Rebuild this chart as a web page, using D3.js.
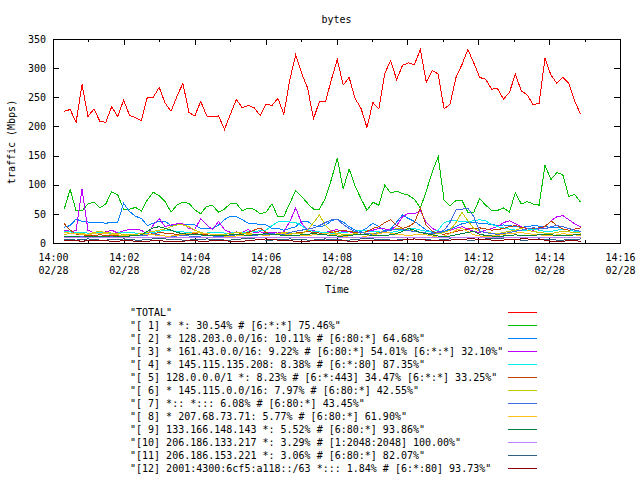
<!DOCTYPE html>
<html lang="en">
<head>
<meta charset="UTF-8">
<title>bytes</title>
<script src="https://d3js.org/d3.v7.min.js"></script>
<style>
  body { margin: 0; background: #fff; }
  text { font-family: "DejaVu Sans Mono", monospace; font-size: 10px; fill: #000; }
</style>
</head>
<body>
<script>
// sample times: 88 samples, roughly every 10 s starting just after 14:00
var tStart = new Date(2013, 1, 28, 14, 0, 19);
var tStepMs = 10050;
var xTickStart = new Date(2013, 1, 28, 14, 0, 0);
var xTickEnd = new Date(2013, 1, 28, 14, 16, 0);
var yTicks = [0, 50, 100, 150, 200, 250, 300, 350];

var total = [226,229,207,272,217,230,209,207,234,217,245,219,215,210,250,250,267,240,226,252,274,224,218,243,218,217,218,195,221,246,232,236,232,219,238,236,248,221,280,323,291,266,213,243,
             242,280,315,271,284,248,231,198,241,230,291,313,280,305,309,306,332,276,296,290,230,238,284,306,332,309,284,281,264,265,247,258,290,261,254,237,240,317,288,274,284,274,243,221];
var s1 = [58,92,55,55,67,70,60,67,88,83,58,58,61,55,74,87,81,71,53,65,70,68,57,50,63,64,53,58,68,68,55,60,58,50,53,67,45,46,68,90,80,68,58,58,
          77,109,145,93,127,98,76,56,70,65,99,86,89,85,82,75,60,89,122,148,73,64,73,73,53,53,76,65,56,56,60,53,86,67,71,67,65,133,109,121,117,80,83,70];
var s2 = [27,30,41,37,36,35,35,34,35,35,68,54,46,42,30,34,37,37,30,31,31,31,31,25,25,25,31,40,46,45,40,34,34,31,31,25,25,22,25,28,37,37,30,28,
          30,38,41,36,28,22,20,26,34,28,20,24,36,48,42,37,30,22,18,17,20,24,28,33,35,35,34,33,32,30,31,30,28,27,28,30,29,28,27,26,28,25,22,20];
var s3 = [22,20,21,93,22,17,17,19,22,17,21,23,23,22,14,31,42,28,31,33,33,25,23,42,31,23,37,23,18,19,18,23,18,19,18,18,17,19,37,60,34,22,21,19,
          18,21,23,19,19,18,17,20,22,25,24,22,30,45,51,50,55,35,25,20,18,22,25,28,24,20,18,22,25,28,35,38,33,28,25,22,24,28,38,45,47,40,33,28];
var s4 = [20,19,18,18,17,17,18,17,17,17,18,18,17,16,17,18,20,22,21,20,19,18,18,17,17,18,18,17,17,18,18,19,20,21,22,30,36,37,36,35,30,22,20,19,
          18,17,17,18,19,20,22,21,20,19,18,18,20,22,24,25,22,20,19,22,35,38,38,37,37,38,40,38,32,28,26,24,22,21,22,24,22,20,20,22,24,22,20,19];
var s5 = [33,22,15,14,13,13,14,13,12,13,14,15,14,13,14,16,18,17,16,15,14,15,16,15,14,13,14,15,16,15,16,18,22,26,18,15,14,15,16,17,18,20,18,17,
          16,18,20,22,20,18,17,20,25,28,35,40,30,25,28,35,60,30,20,16,15,17,20,22,24,25,26,24,22,23,25,28,30,27,25,24,26,28,38,30,24,22,24,26];
var s6 = [15,16,17,16,15,18,20,18,17,16,15,14,15,16,18,20,22,24,28,31,31,28,22,18,16,15,14,15,16,18,17,16,15,14,13,14,16,18,17,16,16,22,35,48,
          30,20,16,15,14,16,18,17,16,18,20,22,25,24,22,20,18,16,15,16,18,22,35,53,38,25,20,18,17,16,18,20,22,25,22,20,18,17,16,18,20,19,18,17];
var s7 = [10,10,11,12,11,10,11,12,11,10,11,12,13,12,14,16,14,12,11,12,13,12,11,12,13,12,11,12,13,14,13,12,13,14,15,16,15,14,18,20,22,24,26,30,
          35,40,41,32,25,20,18,16,15,17,20,22,24,23,21,20,18,17,16,18,22,35,57,58,60,45,20,18,16,15,16,18,20,22,24,26,25,24,28,30,28,25,22,20];
var s8 = [18,17,16,15,14,16,17,16,15,14,13,12,13,14,15,14,13,12,12,13,15,16,18,17,16,15,14,12,11,12,13,14,15,14,13,14,15,16,14,13,12,13,14,15,
          16,15,14,12,10,9,10,12,14,16,18,17,15,14,13,14,15,14,12,10,12,16,22,25,20,14,12,11,12,13,15,16,17,18,16,15,14,13,12,14,16,15,14,13];
var s9 = [12,11,11,10,11,12,12,11,10,11,12,12,13,14,20,26,28,25,22,18,16,15,14,14,13,13,12,13,14,15,14,13,14,15,16,15,14,13,12,13,14,15,16,15,
          14,13,12,12,13,14,15,14,13,12,13,14,16,20,25,22,18,16,14,12,11,12,14,16,18,20,15,13,12,11,12,13,14,13,12,13,14,15,14,13,12,13,14,15];
var s10 = [9,9,9,9,9,9,9,9,9,9,9,9,9,9,9,9,9,9,9,9,9,9,9,9,9,9,9,9,9,9,9,9,9,9,9,9,9,9,9,9,9,9,9,9,
           9,9,9,9,9,9,9,9,9,9,9,9,9,9,9,9,9,9,9,9,9,9,9,9,9,9,9,9,9,9,9,9,9,9,9,9,9,9,9,9,9,9,9,9];
var s11 = [6,6,5,6,7,6,5,5,6,6,7,6,5,5,6,7,8,7,6,6,5,5,6,6,7,6,6,5,5,6,7,8,7,6,5,5,6,6,7,6,6,5,5,6,
           7,6,6,5,5,6,7,8,7,6,6,5,5,6,6,7,6,6,5,5,6,7,6,6,5,5,6,7,8,8,7,6,6,5,5,6,7,6,6,5,5,6,6,7];
var s12 = [5,4,4,3,4,4,5,4,3,3,4,4,3,2,3,4,4,3,2,2,3,4,4,3,3,4,5,4,3,3,3,4,5,6,7,6,5,4,4,3,3,3,4,4,
           4,5,5,4,3,3,4,4,5,5,5,4,4,5,6,7,6,5,4,4,5,5,6,6,7,7,6,6,5,5,5,6,6,7,7,6,6,5,3,2,3,4,4,3];

var names = [
  '"TOTAL"',
  '"[ 1] * *: 30.54% # [6:*:*] 75.46%"',
  '"[ 2] * 128.203.0.0/16: 10.11% # [6:80:*] 64.68%"',
  '"[ 3] * 161.43.0.0/16: 9.22% # [6:80:*] 54.01% [6:*:*] 32.10%"',
  '"[ 4] * 145.115.135.208: 8.38% # [6:*:80] 87.35%"',
  '"[ 5] 128.0.0.0/1 *: 8.23% # [6:*:443] 34.47% [6:*:*] 33.25%"',
  '"[ 6] * 145.115.0.0/16: 7.97% # [6:80:*] 42.55%"',
  '"[ 7] *:: *::: 6.08% # [6:80:*] 43.45%"',
  '"[ 8] * 207.68.73.71: 5.77% # [6:80:*] 61.90%"',
  '"[ 9] 133.166.148.143 *: 5.52% # [6:80:*] 93.86%"',
  '"[10] 206.186.133.217 *: 3.29% # [1:2048:2048] 100.00%"',
  '"[11] 206.186.153.221 *: 3.06% # [6:80:*] 82.07%"',
  '"[12] 2001:4300:6cf5:a118::/63 *::: 1.84% # [6:*:80] 93.73%"'
];
var colors = ["#ff0000", "#00c000", "#0080ff", "#c000ff", "#00eeee", "#c04000", "#c8c800",
              "#4169e1", "#ffc020", "#008040", "#c080ff", "#306080", "#8b0000"];
var values = [total, s1, s2, s3, s4, s5, s6, s7, s8, s9, s10, s11, s12];

var width = 640, height = 480;
var plotLeft = 53, plotRight = 620, plotTop = 39, plotBottom = 243;

var times = values[0].map(function(d, i) { return new Date(tStart.getTime() + i * tStepMs); });

var svg = d3.select("body").append("svg")
    .attr("width", width)
    .attr("height", height);

var x = d3.scaleTime().domain([xTickStart, xTickEnd]).range([plotLeft, plotRight]);
var y = d3.scaleLinear().domain([0, 350]).range([plotBottom, plotTop]);

// minor ticks every minute (bottom + top)
svg.append("g").attr("transform", "translate(0," + plotBottom + ")")
    .call(d3.axisBottom(x).ticks(d3.timeMinute.every(1)).tickSize(-3).tickSizeOuter(0).tickFormat(""))
    .call(function(g) { g.select(".domain").remove(); });
svg.append("g").attr("transform", "translate(0," + plotTop + ")")
    .call(d3.axisTop(x).ticks(d3.timeMinute.every(1)).tickSize(-3).tickSizeOuter(0).tickFormat(""))
    .call(function(g) { g.select(".domain").remove(); });

// major x ticks with two-line labels
var gx = svg.append("g").attr("transform", "translate(0," + plotBottom + ")")
    .call(d3.axisBottom(x).ticks(d3.timeMinute.every(2)).tickSize(-6).tickSizeOuter(0).tickFormat(""));
gx.select(".domain").remove();
gx.selectAll(".tick text").attr("y", null).attr("dy", null).each(function(d) {
  var t = d3.select(this);
  t.append("tspan").attr("x", 0).attr("y", 18).text(d3.timeFormat("%H:%M")(d));
  t.append("tspan").attr("x", 0).attr("y", 31).text(d3.timeFormat("%m/%d")(d));
});
svg.append("g").attr("transform", "translate(0," + plotTop + ")")
    .call(d3.axisTop(x).ticks(d3.timeMinute.every(2)).tickSize(-6).tickSizeOuter(0).tickFormat(""))
    .call(function(g) { g.select(".domain").remove(); });

// y axes
svg.append("g").attr("transform", "translate(" + plotLeft + ",0)")
    .call(d3.axisLeft(y).tickValues(yTicks).tickSize(-6).tickSizeOuter(0).tickPadding(7))
    .call(function(g) { g.select(".domain").remove(); });
svg.append("g").attr("transform", "translate(" + plotRight + ",0)")
    .call(d3.axisRight(y).tickValues(yTicks).tickSize(-6).tickSizeOuter(0).tickFormat(""))
    .call(function(g) { g.select(".domain").remove(); });

svg.selectAll(".tick line").attr("stroke", "#000").attr("shape-rendering", "crispEdges");

// series lines
var line = d3.line()
    .x(function(d, i) { return x(times[i]); })
    .y(function(d) { return y(d); });

svg.append("g").selectAll("path")
    .data(values)
    .enter()
    .append("path")
    .attr("d", line)
    .attr("fill", "none")
    .attr("stroke", function(d, i) { return colors[i]; })
    .attr("stroke-width", 1)
    .attr("shape-rendering", "crispEdges");

// border
svg.append("rect")
    .attr("x", plotLeft + 0.5).attr("y", plotTop + 0.5)
    .attr("width", plotRight - plotLeft).attr("height", plotBottom - plotTop)
    .attr("fill", "none").attr("stroke", "#000")
    .attr("shape-rendering", "crispEdges");

// titles
svg.append("text").attr("x", 336.5).attr("y", 23).attr("text-anchor", "middle").text("bytes");
svg.append("text").attr("x", 337).attr("y", 293).attr("text-anchor", "middle").text("Time");
svg.append("text")
    .attr("transform", "translate(15,142) rotate(-90)")
    .attr("text-anchor", "middle")
    .text("traffic (Mbps)");

// key below the plot
var key = svg.append("g").selectAll("g")
    .data(names)
    .enter()
    .append("g")
    .attr("transform", function(d, i) { return "translate(0," + (312.5 + i * 13) + ")"; });
key.append("text")
    .attr("x", 130)
    .attr("dy", "0.35em")
    .attr("xml:space", "preserve")
    .style("white-space", "pre")
    .text(function(d) { return d; });
key.append("line")
    .attr("x1", 508).attr("x2", 537)
    .attr("stroke", function(d, i) { return colors[i]; })
    .attr("shape-rendering", "crispEdges");
</script>
</body>
</html>
